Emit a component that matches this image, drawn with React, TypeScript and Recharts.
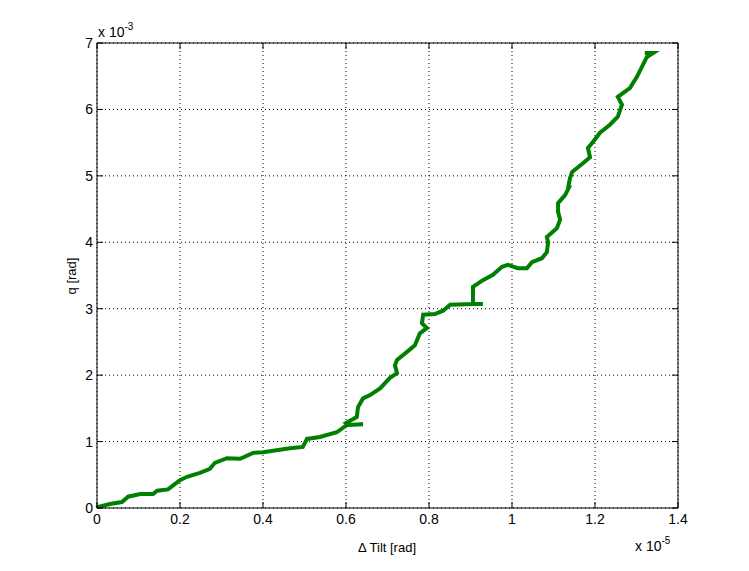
import {
  LineChart,
  Line,
  XAxis,
  YAxis,
  CartesianGrid,
  ReferenceLine,
} from "recharts";

// Δ Tilt, in units of 1e-5 rad
const tilt = [
  0, 0.002, 0.031, 0.06, 0.075, 0.104, 0.135, 0.145, 0.171, 0.2, 0.217, 0.248,
  0.272, 0.284, 0.313, 0.345, 0.376, 0.4, 0.465, 0.496, 0.506, 0.537, 0.578,
  0.602, 0.641, 0.606, 0.6, 0.626, 0.629, 0.641, 0.658, 0.682, 0.706, 0.723,
  0.718, 0.723, 0.747, 0.766, 0.778, 0.795, 0.783, 0.786, 0.814, 0.834, 0.851,
  0.906, 0.93, 0.906, 0.906, 0.93, 0.954, 0.976, 0.99, 1.014, 1.036, 1.048,
  1.072, 1.084, 1.087, 1.084, 1.108, 1.116, 1.111, 1.111, 1.128, 1.14, 1.135,
  1.14, 1.145, 1.171, 1.188, 1.183, 1.195, 1.212, 1.236, 1.255, 1.265, 1.255,
  1.284, 1.301, 1.313, 1.325, 1.34, 1.32,
];

// q, in units of 1e-3 rad
const q = [
  0, 0.015, 0.06, 0.09, 0.17, 0.21, 0.21, 0.26, 0.28, 0.42, 0.47, 0.53, 0.59,
  0.68, 0.75, 0.74, 0.83, 0.84, 0.9, 0.92, 1.04, 1.07, 1.14, 1.25, 1.26, 1.25,
  1.28, 1.37, 1.52, 1.65, 1.7, 1.8, 1.96, 2.03, 2.15, 2.23, 2.35, 2.45, 2.63,
  2.71, 2.78, 2.91, 2.92, 2.97, 3.06, 3.07, 3.07, 3.07, 3.33, 3.43, 3.51, 3.63,
  3.66, 3.61, 3.61, 3.7, 3.76, 3.85, 4.0, 4.08, 4.21, 4.34, 4.46, 4.59, 4.71,
  4.86, 4.82, 4.97, 5.06, 5.19, 5.28, 5.42, 5.51, 5.65, 5.77, 5.89, 6.07, 6.19,
  6.32, 6.49, 6.64, 6.79, 6.85, 6.85,
];

const xTicks = [0, 0.2, 0.4, 0.6, 0.8, 1, 1.2, 1.4];
const yTicks = [0, 1, 2, 3, 4, 5, 6, 7];

const data = tilt.map((x, i) => ({ x, q: q[i] }));

const FONT = "'Liberation Sans', Arial, Helvetica, sans-serif";
const MARGIN = 10;

function XTick(props: any) {
  const { x, y, payload } = props;
  const axisY = y - MARGIN;
  return (
    <g>
      <line x1={x} y1={axisY} x2={x} y2={axisY - 6} stroke="#000" />
      <line x1={x} y1={43} x2={x} y2={49} stroke="#000" />
      <text x={x} y={axisY + 16} textAnchor="middle" fontSize={14} fontFamily={FONT} fill="#000">
        {payload.value}
      </text>
    </g>
  );
}

function YTick(props: any) {
  const { x, y, payload } = props;
  const axisX = x + MARGIN;
  return (
    <g>
      <line x1={axisX} y1={y} x2={axisX + 6} y2={y} stroke="#000" />
      <line x1={678} y1={y} x2={672} y2={y} stroke="#000" />
      <text x={axisX - 4} y={y + 5} textAnchor="end" fontSize={14} fontFamily={FONT} fill="#000">
        {payload.value}
      </text>
    </g>
  );
}

export default function App() {
  return (
    <div style={{ position: "absolute", left: 0, top: 0, width: 749, height: 571, background: "#fff" }}>
      <LineChart
        width={749}
        height={571}
        data={data}
        margin={{ top: 43, right: 71, bottom: 33, left: 0 }}
      >
        <CartesianGrid
          stroke="#000"
          strokeDasharray="1 3"
          horizontalValues={yTicks}
          verticalValues={xTicks}
        />
        <XAxis
          type="number"
          dataKey="x"
          domain={[0, 1.4]}
          ticks={xTicks}
          interval={0}
          height={30}
          tickLine={false}
          tickSize={0}
          tickMargin={MARGIN}
          tick={<XTick />}
          axisLine={{ stroke: "#000" }}
        />
        <YAxis
          type="number"
          domain={[0, 7]}
          ticks={yTicks}
          interval={0}
          width={97}
          tickLine={false}
          tickSize={0}
          tickMargin={MARGIN}
          tick={<YTick />}
          axisLine={{ stroke: "#000" }}
        />
        <ReferenceLine y={7} stroke="#000" />
        <ReferenceLine x={1.4} stroke="#000" />
        <Line
          type="linear"
          dataKey="q"
          stroke="#008000"
          strokeWidth={4}
          dot={false}
          isAnimationActive={false}
        />
        <text x={98} y={37} fontSize={14} fontFamily={FONT} fill="#000">
          x 10
          <tspan dy={-7} fontSize={10}>-3</tspan>
        </text>
        <text x={635} y={551} fontSize={14} fontFamily={FONT} fill="#000">
          x 10
          <tspan dy={-7} fontSize={10}>-5</tspan>
        </text>
        <text x={387} y={552} textAnchor="middle" fontSize={13} fontFamily={FONT} fill="#000">
          Δ Tilt [rad]
        </text>
        <text
          x={76}
          y={276}
          textAnchor="middle"
          fontSize={13}
          fontFamily={FONT}
          fill="#000"
          transform="rotate(-90 76 276)"
        >
          q [rad]
        </text>
      </LineChart>
    </div>
  );
}
